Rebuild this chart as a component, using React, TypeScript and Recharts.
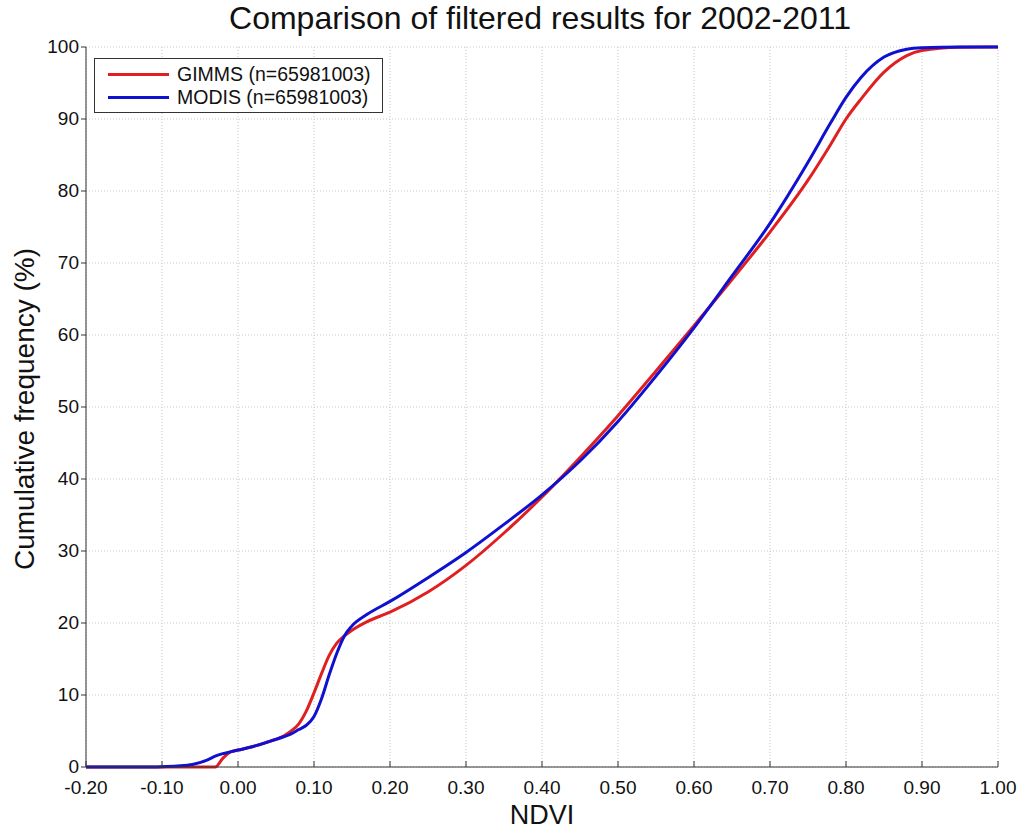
import { CartesianGrid, Line, LineChart, XAxis, YAxis } from 'recharts';

const ndvi = [
  -0.2, -0.12, -0.1, -0.08, -0.06, -0.04, -0.03, -0.02, -0.01, 0, 0.02, 0.04, 0.06, 0.07, 0.08, 0.09, 0.1, 0.11,
  0.12, 0.13, 0.14, 0.15, 0.17, 0.2, 0.25, 0.3, 0.35, 0.4, 0.45, 0.5, 0.55, 0.6, 0.65, 0.7, 0.75, 0.78, 0.8, 0.82,
  0.85, 0.88, 0.9, 0.95, 1.0,
];

const gimms = [
  0, 0, 0, 0, 0, 0, 0, 1.2, 2.1, 2.35, 2.85, 3.5, 4.3, 5.0, 6.0, 7.8, 10.3, 13, 15.5, 17.2, 18.2, 19, 20.2, 21.5, 24.3,
  28, 32.5, 37.5, 43, 48.8, 55, 61.3, 67.7, 74.3, 81.5, 86.5, 90, 92.8, 96.5, 98.8, 99.5, 99.95, 100,
];

const modis = [
  0, 0, 0.05, 0.15, 0.35, 1.0, 1.5, 1.85, 2.1, 2.35, 2.85, 3.5, 4.2, 4.6, 5.2, 5.8, 7, 9.5, 12.8, 15.8, 18.2, 19.6, 21.2,
  23, 26.3, 29.8, 33.7, 37.8, 42.5, 48, 54.3, 61, 68.2, 75.5, 84, 89.5, 93, 95.8, 98.6, 99.7, 99.9, 100, 100,
];

const xTicks = [-0.2, -0.1, 0, 0.1, 0.2, 0.3, 0.4, 0.5, 0.6, 0.7, 0.8, 0.9, 1.0];
const yTicks = [0, 10, 20, 30, 40, 50, 60, 70, 80, 90, 100];

const FONT = '"Liberation Sans", Arial, sans-serif';

const data = ndvi.map((x, i) => ({ x, gimms: gimms[i], modis: modis[i] }));

function XTick(props: any) {
  const { x, y, payload } = props;
  return (
    <g>
      <line x1={x} x2={x} y1={y} y2={y - 6} stroke="#333" />
      <text x={x} y={y + 27} textAnchor="middle" fontSize={19} fill="#111" fontFamily={FONT}>
        {Number(payload.value).toFixed(2)}
      </text>
    </g>
  );
}

function YTick(props: any) {
  const { x, y, payload } = props;
  return (
    <g>
      <line x1={x - 5} x2={x} y1={y} y2={y} stroke="#333" />
      <text x={x - 7} y={y + 6} textAnchor="end" fontSize={19} fill="#111" fontFamily={FONT}>
        {payload.value}
      </text>
    </g>
  );
}

function LegendBox() {
  const row = (color: string, label: string) => (
    <div style={{ display: 'flex', alignItems: 'center', height: 23 }}>
      <div style={{ width: 61, height: 3, background: color, marginLeft: 13, marginRight: 8 }} />
      <span style={{ fontSize: 19.5, color: '#111' }}>{label}</span>
    </div>
  );
  return (
    <div
      style={{
        position: 'absolute',
        left: 94,
        top: 58,
        width: 289,
        height: 55,
        border: '1px solid #333',
        background: '#fff',
        fontFamily: FONT,
        paddingTop: 4,
        boxSizing: 'border-box',
      }}
    >
      {row('#e02020', 'GIMMS (n=65981003)')}
      {row('#1010d0', 'MODIS (n=65981003)')}
    </div>
  );
}

export default function App() {
  return (
    <div style={{ position: 'absolute', left: 0, top: 0, width: 1024, height: 832, background: '#fff' }}>
      <LineChart width={1024} height={832} data={data} margin={{ top: 47, right: 26, bottom: 0, left: 26 }}>
        <CartesianGrid stroke="#c8c8c8" strokeDasharray="1 2" />
        <XAxis
          dataKey="x"
          type="number"
          domain={[-0.2, 1]}
          ticks={xTicks}
          interval={0}
          height={65}
          tickSize={0}
          tickMargin={0}
          tickLine={false}
          stroke="#333"
          tick={<XTick />}
          label={{ value: 'NDVI', position: 'insideBottom', offset: 8, fontSize: 27, fill: '#111', fontFamily: FONT }}
        />
        <YAxis
          type="number"
          domain={[0, 100]}
          ticks={yTicks}
          interval={0}
          width={60}
          tickSize={0}
          tickMargin={0}
          tickLine={false}
          stroke="#333"
          tick={<YTick />}
          label={{
            content: () => (
              <text
                x={34}
                y={409}
                transform="rotate(-90 34 409)"
                textAnchor="middle"
                fontSize={28}
                fill="#111"
                fontFamily={FONT}
              >
                Cumulative frequency (%)
              </text>
            ),
          }}
        />
        <Line
          type="monotone"
          dataKey="gimms"
          name="GIMMS (n=65981003)"
          stroke="#e02020"
          strokeWidth={3}
          dot={false}
          isAnimationActive={false}
        />
        <Line
          type="monotone"
          dataKey="modis"
          name="MODIS (n=65981003)"
          stroke="#1010d0"
          strokeWidth={3}
          dot={false}
          isAnimationActive={false}
        />
      </LineChart>
      <div
        style={{
          position: 'absolute',
          top: 0,
          left: 0,
          width: 1080,
          textAlign: 'center',
          fontFamily: FONT,
          fontSize: 32,
          color: '#111',
        }}
      >
        Comparison of filtered results for 2002-2011
      </div>
      <LegendBox />
    </div>
  );
}
